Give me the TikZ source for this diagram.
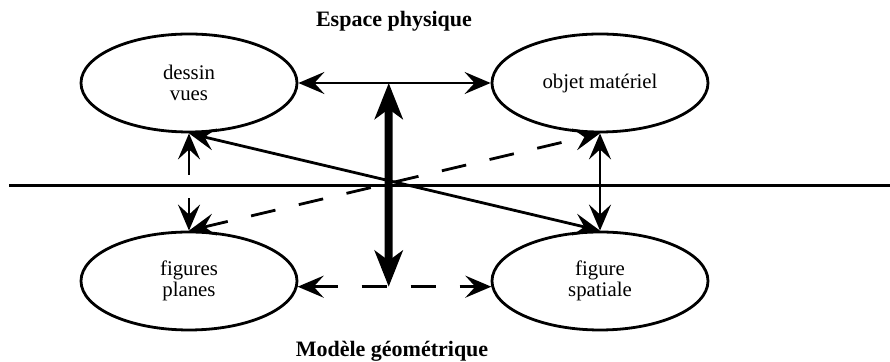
\documentclass[tikz,border=0pt]{standalone}
\usepackage{fontspec}
\setmainfont{Liberation Serif}
\usetikzlibrary{arrows.meta,shapes.geometric}
\tikzset{bulle/.style={draw, ellipse, line width=1.4pt, minimum width=108pt,
  minimum height=49pt, inner sep=0pt, align=center,
  font=\fontsize{10.4}{10.5}\selectfont},
  fl/.style={line width=1.4pt, >={Stealth[length=13pt,width=11pt,inset=5pt]}, <->},
  flpoint/.style={fl, dash pattern=on 12.5pt off 12pt},
  grosfl/.style={line width=4pt, >={Stealth[length=18pt,width=14pt,inset=5pt]}, <->},
  titre/.style={anchor=base, font=\fontsize{11}{13}\selectfont\bfseries}}

\begin{document}
\begin{tikzpicture}[x=0.5pt,y=-0.5pt]
  \useasboundingbox (0,0) rectangle (890,362);
  \node[titre] (ep) at (394,27) {Espace physique};
  \node[titre] (mg) at (392,357) {Modèle géométrique};
  \node[bulle] (dv) at (189,83) {dessin\\vues};
  \node[bulle] (om) at (600,83) {objet matériel};
  \node[bulle] (fp) at (189,281) {figures\\planes};
  \node[bulle] (fs) at (600,281) {figure\\spatiale};
  \coordinate (g) at (9,186);
  \coordinate (d) at (890,186);
  \draw[line width=1.5pt] (g) -- (d);                            % frontiere
  \draw[fl] (dv.east) -- coordinate[pos=0.47] (h) (om.west);     % haut
  \draw[flpoint] (fp.-3) -- coordinate[pos=0.47] (b) (fs.183);   % bas
  \draw[flpoint, dash pattern=on 13.5pt off 11.5pt] (dv.south) -- (fp.north); % gauche
  \draw[fl] (om.south) -- (fs.north);                            % droite
  \draw[fl] (dv.south) -- (fs.north);
  \draw[flpoint] (fp.north) -- (om.south);
  \draw[grosfl] (b) -- (h);
\end{tikzpicture}
\end{document}
